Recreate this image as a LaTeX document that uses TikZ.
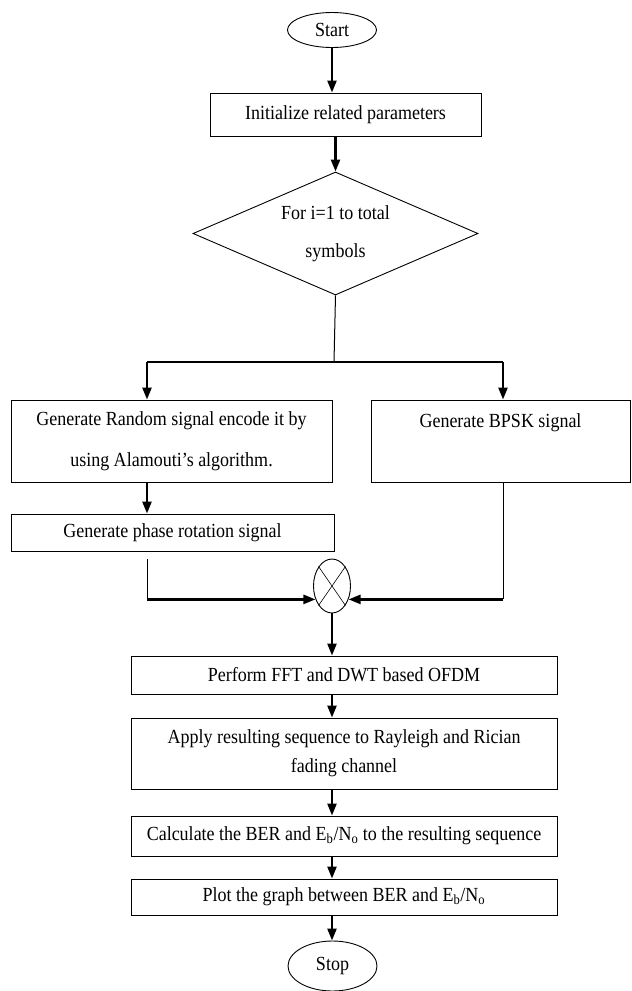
\documentclass[tikz,border=0pt]{standalone}
\usepackage{fontspec}
\setmainfont{Liberation Serif}[FakeStretch=0.9]
\usetikzlibrary{shapes.geometric, arrows.meta}
\tikzset{
  base/.style={draw, line width=0.9pt, inner sep=0pt, align=center,
               font=\fontsize{20}{21}\selectfont},
  term/.style={base, ellipse, minimum width=89pt, minimum height=35pt},
  proc/.style={base, rectangle},
  dec/.style={base, diamond, aspect=2.3,
              minimum width=285pt, minimum height=123pt},
  mult/.style={draw, ellipse, line width=0.9pt, inner sep=0pt,
               minimum width=37pt, minimum height=54pt},
  arr/.style={-{Triangle[length=12pt,width=9pt]}, line width=2.4pt},
  link/.style={line width=1pt},
}

\begin{document}
\begin{tikzpicture}[x=1pt, y=-1pt]
  \useasboundingbox (0,0) rectangle (632,991);

  % main column
  \node[term] (start) at (332,30) {Start};
  \node[proc, minimum width=271pt, minimum height=43pt] (init) at (345.5,114.5)
    {Initialize related parameters};
  \node[dec] (loop) at (335.5,233.5) {For i=1 to total\\[17pt]symbols};

  % two branches
  \node[proc, minimum width=321pt, minimum height=82pt] (rand) at (171.5,441)
    {Generate Random signal encode it by\\[20pt]using Alamouti’s algorithm.};
  \node[proc, minimum width=259pt, minimum height=82pt] (bpsk) at (500.5,441)
    {Generate BPSK signal\\[20pt]\mbox{}};
  \node[proc, minimum width=323pt, minimum height=37pt] (phase) at (172.5,532.5)
    {Generate phase rotation signal};
  \node[mult] (mul) at (332,586) {};
  \draw[line width=0.6pt] (mul.north west) -- (mul.south east)
                          (mul.north east) -- (mul.south west);

  % after the product
  \node[proc, minimum width=426pt, minimum height=38pt] (perf) at (344,675)
    {Perform FFT and DWT based OFDM};
  \node[proc, minimum width=426pt, minimum height=71pt] (appl) at (344,753.5)
    {Apply resulting sequence to Rayleigh and Rician\\[8pt]fading channel};
  \node[proc, minimum width=426pt, minimum height=40pt] (calc) at (344,836)
    {Calculate the BER and E\textsubscript{b}/N\textsubscript{o} to the resulting sequence};
  \node[proc, minimum width=426pt, minimum height=36pt] (plot) at (344,897)
    {Plot the graph between BER and E\textsubscript{b}/N\textsubscript{o}};
  \node[term, minimum height=50pt] (stop) at (332.5,966) {Stop};

  \coordinate (split) at (334,362);
  \coordinate (lft) at (147,362);
  \coordinate (rgt) at (503,362);
  \coordinate (lcorner) at (lft |- mul.219);
  \coordinate (rcorner) at (rgt |- mul.-39);

  \draw[arr] (start.south) -- (start.south |- init.north);
  \draw[arr] (init.south -| loop.north) -- (loop.north);
  \draw[link] (loop.south) -- (split);
  \draw[line width=1.5pt] (lft) -- (rgt);
  \draw[arr] (lft) -- (lft |- rand.north);
  \draw[arr] (rgt) -- (rgt |- bpsk.north);
  \draw[arr] (rand.south -| lft) -- (phase.north -| lft);
  \draw[link, shorten <=8pt] (phase.south -| lft) -- (lcorner);
  \draw[arr] (lcorner) -- (mul.219);
  \draw[link] (bpsk.south -| rgt) -- (rcorner);
  \draw[arr] (rcorner) -- (mul.-39);

  \draw[arr] (mul.south) -- (mul.south |- perf.north);
  \draw[arr] (mul.south |- perf.south) -- (mul.south |- appl.north);
  \draw[arr] (mul.south |- appl.south) -- (mul.south |- calc.north);
  \draw[arr] (mul.south |- calc.south) -- (mul.south |- plot.north);
  \draw[arr] (mul.south |- plot.south) -- (mul.south |- stop.north);
\end{tikzpicture}
\end{document}
